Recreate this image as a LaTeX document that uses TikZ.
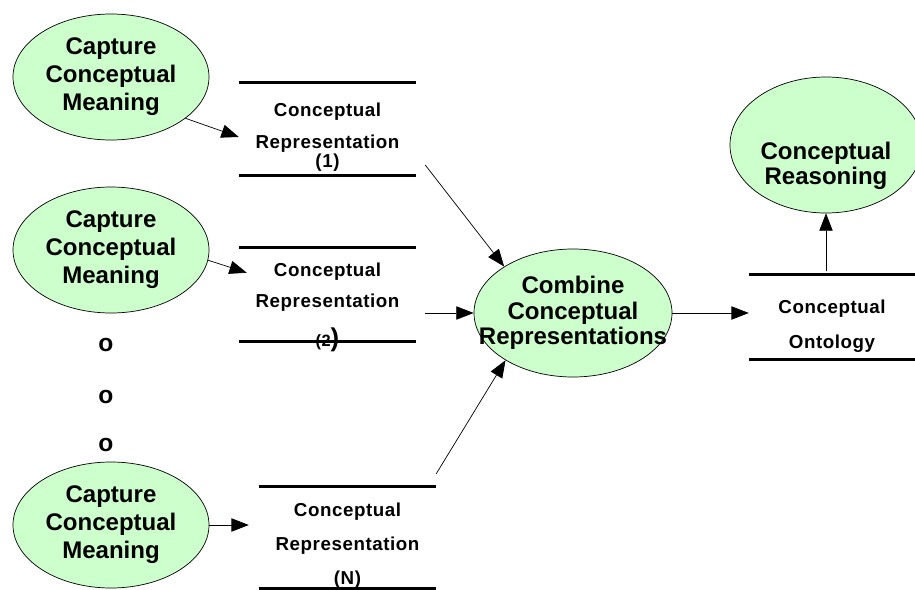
\documentclass[tikz,border=0pt]{standalone}
\usepackage{fontspec}
\setmainfont{Liberation Sans}
\newfontfamily\storefont[LetterSpace=3]{Liberation Sans}
\usepackage{tikz}
\usetikzlibrary{arrows.meta, positioning, shapes.geometric}
\definecolor{bubble}{RGB}{204,255,204}

\begin{document}
\begin{tikzpicture}[
    x=0.03cm, y=-0.03cm,
    process/.style={ellipse, draw=black, line width=0.6pt, fill=bubble, align=center, inner sep=0pt, minimum width=5.88cm, minimum height=3.78cm, font=\fontsize{20.5}{24}\selectfont\bfseries},
    storeline/.style={line width=2.6pt, -},
    store/.style={rectangle, align=center, inner sep=0pt, minimum width=5.31cm, font=\storefont\fontsize{16}{19}\selectfont\bfseries,
        append after command={([yshift=#1]\tikzlastnode.north west) edge[storeline] ([yshift=#1]\tikzlastnode.north east)
                              ([yshift=#1]\tikzlastnode.south west) edge[storeline] ([yshift=#1]\tikzlastnode.south east)}},
    store/.default=0pt,
    dots/.style={font=\fontsize{21}{24}\selectfont\bfseries, inner sep=0pt},
    arrow/.style={-{Triangle[length=0.52cm, width=0.4cm]}, line width=0.6pt}
]
\useasboundingbox (0,0) rectangle (915,590);

% capture processes
\node[process] (cap1) at (111,77) {Capture\\Conceptual\\Meaning};
\node[process] (cap2) at (111,250) {Capture\\Conceptual\\Meaning};
\node[process] (cap3) at (111,525) {Capture\\Conceptual\\Meaning};

\node[dots] (dot1) at (106,345) {o};
\node[dots] (dot2) at (106,397) {o};
\node[dots] (dot3) at (106,445) {o};

% data stores
\node[store=0.24cm, minimum height=2.76cm] (s1) at (327.5,137) {Conceptual\\[8pt]Representation\\[-3pt](1)};
\node[store=0.39cm, minimum height=2.79cm] (s2) at (327.5,307.5) {Conceptual\\[7.4pt]Representation\\[12.5pt]{\fontsize{14}{19}\selectfont(2}{\fontsize{22}{19}\selectfont)}};
\node[store=0.24cm, minimum height=3.03cm] (s3) at (347.5,545.5) {Conceptual\\[10pt]Representation\\[10pt](N)};

\node[process, inner sep=-22pt, minimum width=5.94cm, minimum height=3.84cm, font=\fontsize{20.5}{21.7}\selectfont\bfseries] (comb) at (573,313) {Combine\\Conceptual\\Representations};

\node[store=0.27cm, minimum width=4.98cm, minimum height=2.52cm] (onto) at (832,326) {Conceptual\\[10.8pt]Ontology};

\node[process, minimum width=5.76cm, minimum height=4.08cm,
      label={[name=reasontext, yshift=-0.63cm, align=center, font=\fontsize{20.5}{21.3}\selectfont\bfseries]center:{Conceptual\\Reasoning}}] (reason) at (826,145) {};

% flows
\draw[arrow] (cap1.-29) -- (s1.west);
\draw[arrow] (cap2.-6) -- ([shift={(8,12)}]s2.north west);
\draw[arrow] (cap3.east) -- ([shift={(-10,0)}]s3.west |- cap3.east);

\draw[arrow] ([shift={(9,28)}]s1.east) -- (comb.146);
\draw[arrow] ([shift={(9,0)}]s2.east |- comb.west) -- (comb.west);
\draw[arrow] ([shift={(0,-21)}]s3.north east) -- (comb.215);

\draw[arrow] (comb.east) -- (comb.east -| onto.west);
\draw[arrow] ([shift={(0,-12.5)}]reason.south |- onto.north) -- (reason.south);

\end{tikzpicture}
\end{document}
